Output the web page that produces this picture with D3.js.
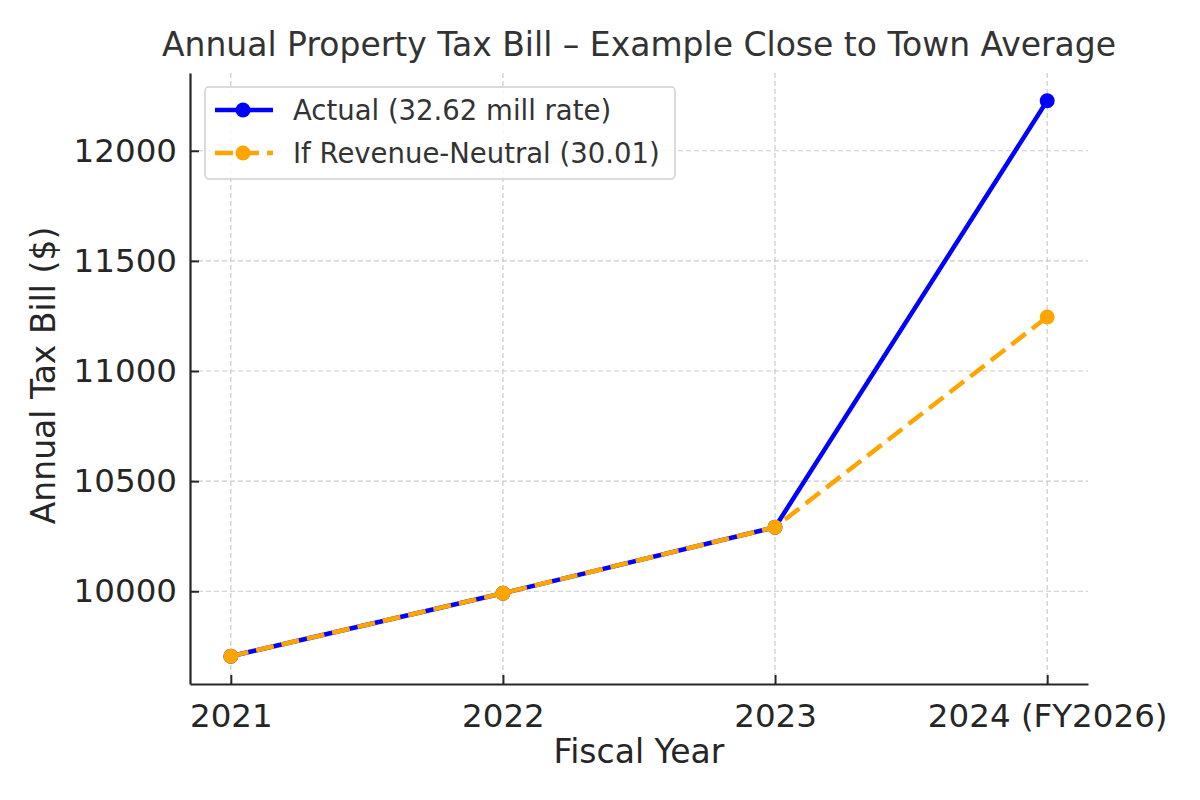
<!DOCTYPE html>
<html>
<head>
<meta charset="utf-8">
<script src="https://cdn.jsdelivr.net/npm/d3@7"></script>
<style>
  body { margin: 0; background: #fff; }
  text { font-family: "DejaVu Sans", sans-serif; fill: #262626; }
</style>
</head>
<body>
<div id="chart"></div>
<script>
// data
const years = ['2021', '2022', '2023', '2024 (FY2026)'];
const actual = [9705, 9991, 10291, 12227];
const neutral = [9705, 9991, 10291, 11245];
const yTicks = [10000, 10500, 11000, 11500, 12000];
const seriesNames = ['Actual (32.62 mill rate)', 'If Revenue-Neutral (30.01)'];

const width = 1200, height = 800;
const margin = { top: 73, right: 112, bottom: 116, left: 190 };

const svg = d3.select('#chart').append('svg')
    .attr('width', width)
    .attr('height', height);

const x = d3.scaleLinear()
    .domain([-0.15, years.length - 1 + 0.15])
    .range([margin.left, width - margin.right]);

const yMin = d3.min(actual.concat(neutral)), yMax = d3.max(actual.concat(neutral));
const pad = (yMax - yMin) * 0.05;
const y = d3.scaleLinear()
    .domain([yMin - pad, yMax + pad])
    .range([height - margin.bottom, margin.top]);

//  grid
const grid = svg.append('g').attr('class', 'grid');
grid.selectAll('.gx').data(years).enter().append('line')
    .attr('x1', (d, i) => x(i)).attr('x2', (d, i) => x(i))
    .attr('y1', margin.top).attr('y2', height - margin.bottom)
    .attr('stroke', '#cccccc').attr('stroke-width', 1.2).attr('stroke-dasharray', '5,3');
grid.selectAll('.gy').data(yTicks).enter().append('line')
    .attr('x1', margin.left).attr('x2', width - margin.right)
    .attr('y1', d => y(d)).attr('y2', d => y(d))
    .attr('stroke', '#cccccc').attr('stroke-width', 1.2).attr('stroke-dasharray', '5,3');

//  axes, ticks pointing inward like the reference
const xAxis = svg.append('g')
    .attr('transform', 'translate(0,' + (height - margin.bottom) + ')')
    .call(d3.axisBottom(x).tickValues(d3.range(years.length)).tickFormat(i => years[i])
        .tickSize(-9).tickSizeOuter(0).tickPadding(20));
const yAxis = svg.append('g')
    .attr('transform', 'translate(' + margin.left + ',0)')
    .call(d3.axisLeft(y).tickValues(yTicks).tickFormat(d3.format('d'))
        .tickSize(-9).tickSizeOuter(0).tickPadding(13));

[xAxis, yAxis].forEach(a => {
    a.select('.domain').attr('stroke', '#262626').attr('stroke-width', 2.2);
    a.selectAll('.tick line').attr('stroke', '#262626').attr('stroke-width', 2);
    a.selectAll('.tick text').style('font-size', '32.5px').attr('fill', '#222');
});

//  lines
const line = d3.line().x((d, i) => x(i)).y(d => y(d));

svg.append('path').datum(actual)
    .attr('fill', 'none').attr('stroke', '#0000ff').attr('stroke-width', 4.5)
    .attr('d', line);
svg.append('g').selectAll('circle').data(actual).enter().append('circle')
    .attr('cx', (d, i) => x(i)).attr('cy', d => y(d)).attr('r', 7.5)
    .attr('fill', '#0000ff');

svg.append('path').datum(neutral)
    .attr('fill', 'none').attr('stroke', '#ffa500').attr('stroke-width', 4.5)
    .attr('stroke-dasharray', '18,8')
    .attr('d', line);
svg.append('g').selectAll('circle').data(neutral).enter().append('circle')
    .attr('cx', (d, i) => x(i)).attr('cy', d => y(d)).attr('r', 7.5)
    .attr('fill', '#ffa500');

//  title and labels
svg.append('text')
    .attr('x', (margin.left + width - margin.right) / 2).attr('y', 56)
    .attr('text-anchor', 'middle').style('font-size', '33px').style('fill', '#333')
    .text('Annual Property Tax Bill – Example Close to Town Average');
svg.append('text')
    .attr('x', (margin.left + width - margin.right) / 2).attr('y', 763)
    .attr('text-anchor', 'middle').style('font-size', '33px')
    .text('Fiscal Year');
svg.append('text')
    .attr('transform', 'translate(55,' + ((margin.top + height - margin.bottom) / 2 - 3) + ') rotate(-90)')
    .attr('text-anchor', 'middle').style('font-size', '33px')
    .text('Annual Tax Bill ($)');

//  legend
const legend = svg.append('g').attr('transform', 'translate(205,87)');
legend.append('rect')
    .attr('width', 470).attr('height', 92).attr('rx', 4)
    .attr('fill', 'rgba(255,255,255,0.8)').attr('stroke', '#d0d0d0').attr('stroke-width', 1.5);
const items = legend.selectAll('.item').data(seriesNames).enter().append('g')
    .attr('transform', (d, i) => 'translate(0,' + (23 + i * 43) + ')');
items.append('line')
    .attr('x1', 10).attr('x2', 68)
    .attr('stroke', (d, i) => i === 0 ? '#0000ff' : '#ffa500')
    .attr('stroke-width', 4.5)
    .attr('stroke-dasharray', (d, i) => i === 0 ? null : '18,8');
items.append('circle')
    .attr('cx', 38).attr('r', 7.5)
    .attr('fill', (d, i) => i === 0 ? '#0000ff' : '#ffa500');
items.append('text')
    .attr('x', 88).attr('dy', '0.35em')
    .style('font-size', '27.5px').style('fill', '#333')
    .text(d => d);
</script>
</body>
</html>
